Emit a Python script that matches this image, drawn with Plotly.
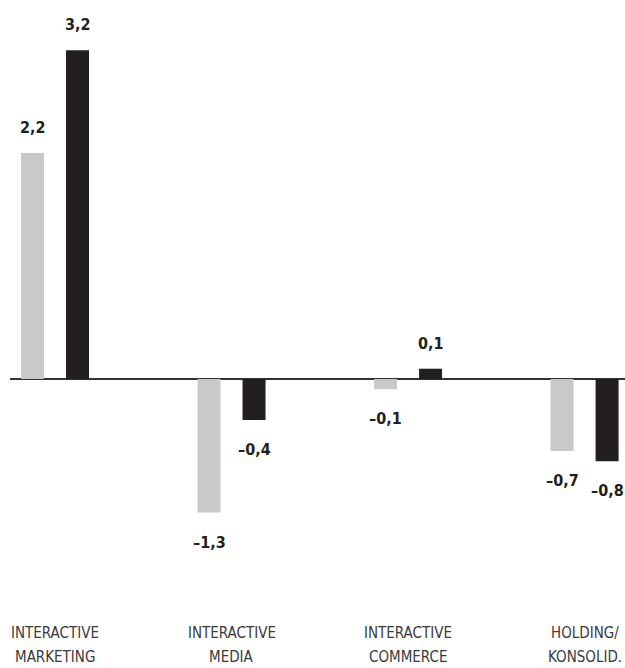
import plotly.graph_objects as go

# Segment results (EBIT change), two periods per segment
categories = ["INTERACTIVE MARKETING", "INTERACTIVE MEDIA", "INTERACTIVE COMMERCE", "HOLDING/ KONSOLID."]
label_line1 = ["INTERACTIVE", "INTERACTIVE", "INTERACTIVE", "HOLDING/"]
label_line2 = ["MARKETING", "MEDIA", "COMMERCE", "KONSOLID."]
prev_values = [2.2, -1.3, -0.1, -0.7]
curr_values = [3.2, -0.4, 0.1, -0.8]

GRAY = "#c8c9cb"
DARK = "#231f20"
FONT = "DejaVu Sans Condensed, Liberation Sans Narrow, sans-serif"

x_idx = list(range(len(categories)))

fig = go.Figure()
fig.add_trace(go.Bar(x=x_idx, y=prev_values, marker=dict(color=GRAY, line=dict(width=0)),
                     name="prev", hoverinfo="skip"))
fig.add_trace(go.Bar(x=x_idx, y=curr_values, marker=dict(color=DARK, line=dict(width=0)),
                     name="curr", hoverinfo="skip"))


def fmt(v):
    s = f"{abs(v):.1f}".replace(".", ",")
    return ("\u2013" + s) if v < 0 else s


annotations = []
for series, shift in ((prev_values, -22.5), (curr_values, 22.5)):
    for i, v in enumerate(series):
        annotations.append(dict(
            x=i, y=v, xref="x", yref="y", xshift=shift,
            yshift=14 if v >= 0 else -18,
            yanchor="bottom" if v >= 0 else "top",
            text=f"<b>{fmt(v)}</b>", showarrow=False,
            font=dict(family=FONT, size=16, color=DARK),
        ))

for i, (l1, l2) in enumerate(zip(label_line1, label_line2)):
    annotations.append(dict(x=i, y=1 - 633 / 668, xref="x", yref="paper", text=l1,
                            showarrow=False, yanchor="middle",
                            font=dict(family=FONT, size=15, color="#3a3a3a")))
    annotations.append(dict(x=i, y=1 - 657 / 668, xref="x", yref="paper", text=l2,
                            showarrow=False, yanchor="middle",
                            font=dict(family=FONT, size=15, color="#3a3a3a")))

fig.update_layout(
    width=625, height=668,
    margin=dict(l=10, r=0, t=0, b=0),
    paper_bgcolor="white", plot_bgcolor="white",
    barmode="group", bargap=0.49, bargroupgap=0.489,
    showlegend=False,
    annotations=annotations,
    xaxis=dict(range=[-0.255, 3.229], showticklabels=False, showgrid=False,
               zeroline=False, showline=False, ticks=""),
    yaxis=dict(range=[-2.814, 3.690], showticklabels=False, showgrid=False,
               zeroline=True, zerolinecolor="#333333", zerolinewidth=1.5,
               showline=False, ticks=""),
)

fig.write_html("out.html")
